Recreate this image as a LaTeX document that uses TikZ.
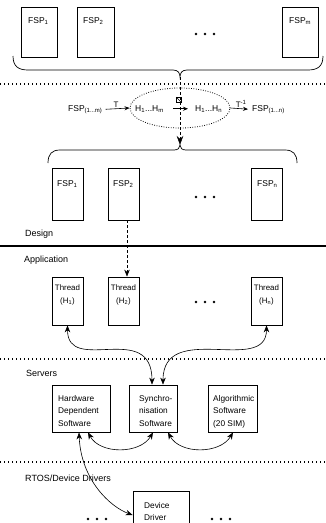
\documentclass[tikz,border=0pt]{standalone}
\usepackage{fontspec}
\setmainfont{Liberation Sans}
\usetikzlibrary{arrows.meta,shapes.geometric}
\begin{document}
\begin{tikzpicture}[x=1pt,y=-1pt,
  box/.style={draw,line width=0.8pt,inner sep=0pt},
  txt/.style={inner sep=0pt,align=left,font=\fontsize{8.3}{12.5}\selectfont},
  ctxt/.style={inner sep=0pt,align=center,font=\fontsize{7.9}{12.5}\selectfont},
  lay/.style={inner sep=0pt,anchor=north west,font=\fontsize{8.5}{10}\selectfont},
  side/.style={inner sep=0pt,anchor=north west,font=\fontsize{9}{10}\selectfont},
  sep/.style={line width=1.1pt,dash pattern=on 1.1pt off 2.9pt},
  bighead/.style={-{Stealth[length=9pt,width=6.5pt]}},
  onehead/.style={-{Stealth[length=7pt,width=5.5pt]},line width=0.6pt},
  dbl/.style={{Stealth[length=7pt,width=5.5pt]}-{Stealth[length=7pt,width=5.5pt]},line width=0.6pt},
  small/.style={-{Stealth[length=5pt,width=4pt]},line width=0.6pt},
  dot/.style={circle,fill,inner sep=0pt,minimum size=2.6pt}
]
\useasboundingbox (0,0) rectangle (326,523);

% ---------- top FSP row
\node[box,minimum width=36pt,minimum height=50pt] (f1) at (39,32) {};
\node[box,minimum width=37pt,minimum height=50pt] (f2) at (95.5,32) {};
\node[box,minimum width=36pt,minimum height=50pt] (fm) at (300,32) {};
\node[lay] (f1t) at (28,17) {FSP\textsubscript{1}};
\node[lay] (f2t) at (83,17) {FSP\textsubscript{2}};
\node[lay] (fmt) at (289,17) {FSP\textsubscript{m}};
\node[dot] (da1) at (196,34) {};
\node[dot] (da2) at (205,34) {};
\node[dot] (da3) at (214,34) {};

% top brace
\draw[line width=0.7pt] (13,56) .. controls (13,66) and (18,70) .. (28,70) -- (173,70)
  .. controls (178,70) and (180,73) .. (180,77) .. controls (180,73) and (182,70) .. (187,70)
  -- (308,70) .. controls (318,70) and (323,66) .. (323,56);
\coordinate (bt) at (180,77);

\draw[sep] (0,84) -- (326,84);

% ---------- transformation row
\node[ellipse,draw,line width=0.8pt,dash pattern=on 0.8pt off 1.6pt,minimum width=100pt,minimum height=40pt,inner sep=0pt] (el) at (180,108) {};
\node[lay,anchor=base west] (r1) at (68,111) {FSP\textsubscript{(1...m)}};
\node[lay,anchor=base west] (hm) at (135,111) {H\textsubscript{1}...H\textsubscript{m}};
\node[lay,anchor=base west] (hn) at (195,111) {H\textsubscript{1}...H\textsubscript{n}};
\node[lay,anchor=base west] (r2) at (252,111) {FSP\textsubscript{(1...n)}};
\draw[small,shorten <=3pt] (r1.east) -- (el.west) node[midway,above=1pt,inner sep=0pt,font=\fontsize{8}{9}\selectfont] (tl) {T};
\draw[small,shorten >=4pt] (el.east) -- (r2.west) node[midway,above=1pt,inner sep=0pt,font=\fontsize{8}{9}\selectfont] (til) {T\textsuperscript{-1}};
\draw[small,shorten <=9pt,shorten >=7pt] (hm.east) -- (hn.west);
\node[draw,line width=0.7pt,minimum size=5pt,inner sep=0pt,fill=white] (sym) at (179,100) {};
\draw[line width=0.6pt] (sym.north west) -- (sym.south east);

% lower brace
\draw[line width=0.7pt] (48,163) .. controls (48,154) and (52,150) .. (60,150) -- (174,150)
  .. controls (178,150) and (180,148) .. (180,145) .. controls (180,148) and (182,150) .. (186,150)
  -- (285,150) .. controls (293,150) and (297,154) .. (297,163);
\coordinate (bb) at (180,145);
\draw[bighead,line width=0.6pt,dash pattern=on 3pt off 2pt] (bt) -- (bb);

% ---------- lower FSP row
\node[box,minimum width=31pt,minimum height=52pt] (g1) at (67.5,194) {};
\node[box,minimum width=31pt,minimum height=52pt] (g2) at (123.5,194) {};
\node[box,minimum width=31pt,minimum height=52pt] (gn) at (266.5,194) {};
\node[lay] (g1t) at (57,180) {FSP\textsubscript{1}};
\node[lay] (g2t) at (113,180) {FSP\textsubscript{2}};
\node[lay] (gnt) at (257,180) {FSP\textsubscript{n}};
\node[dot] (db1) at (196,197) {};
\node[dot] (db2) at (205,197) {};
\node[dot] (db3) at (214,197) {};

\node[side] (design) at (25,230) {Design};
\draw[line width=1.4pt] (0,246) -- (326,246);
\node[side] (appl) at (24,256) {Application};

% ---------- threads
\node[box,minimum width=31pt,minimum height=48pt] (t1) at (67.5,301) {};
\node[box,minimum width=31pt,minimum height=48pt] (t2) at (123.5,301) {};
\node[box,minimum width=31pt,minimum height=48pt] (tn) at (266.5,301) {};
\node[ctxt,anchor=north] (t1t) at (67.5,285) {Thread\\(H\textsubscript{1})};
\node[ctxt,anchor=north] (t2t) at (123.5,285) {Thread\\(H\textsubscript{2})};
\node[ctxt,anchor=north] (tnt) at (266.5,285) {Thread\\(H\textsubscript{n})};
\node[dot] (dc1) at (196,302) {};
\node[dot] (dc2) at (205,302) {};
\node[dot] (dc3) at (214,302) {};
\draw[onehead,dash pattern=on 3pt off 2pt] (g2.south -| 127,0) -- (t2.north -| 127,0);

\draw[sep] (0,359) -- (326,359);
\node[side] (serv) at (26,370) {Servers};

% ---------- servers
\node[box,minimum width=58pt,minimum height=47pt] (hw) at (81,408.5) {};
\node[box,minimum width=48pt,minimum height=47pt] (sy) at (153,408.5) {};
\node[box,minimum width=49pt,minimum height=47pt] (al) at (232.5,408.5) {};
\node[txt,anchor=north west] (hwt) at (58,395) {Hardware\\Dependent\\Software};
\node[txt,anchor=north west] (syt) at (139,395) {Synchro-\\nisation\\Software};
\node[txt,anchor=north west] (alt) at (213,395) {Algorithmic\\Software\\(20 SIM)};

\draw[dbl] (t1.south) .. controls +(0,50) and +(0,-65) .. (sy.north -| 152,0);
\draw[dbl] (tn.south) .. controls +(0,50) and +(0,-65) .. (sy.north -| 163,0);
\draw[dbl] (hw.south -| 88,0) .. controls +(12,22) and +(-13,22) .. (sy.south -| 153,0);
\draw[dbl] (sy.south -| 168,0) .. controls +(12,22) and +(-13,22) .. (al.south -| 233,0);

\draw[sep] (0,462) -- (326,462);
\node[side] (rtos) at (25,475) {RTOS/Device Drivers};

% ---------- device driver
\node[box,minimum width=56pt,minimum height=40pt] (dd) at (161,511) {};
\node[txt,anchor=north west] (ddt) at (144,502) {Device\\Driver};
\draw[dbl] (hw.south -| 79,0) .. controls +(2,48) and +(-22,-8) .. (dd.west |- 0,515);
\node[dot] (dd1) at (88,519) {};
\node[dot] (dd2) at (97,519) {};
\node[dot] (dd3) at (106,519) {};
\node[dot] (de1) at (212,519) {};
\node[dot] (de2) at (221,519) {};
\node[dot] (de3) at (230,519) {};
\end{tikzpicture}
\end{document}
